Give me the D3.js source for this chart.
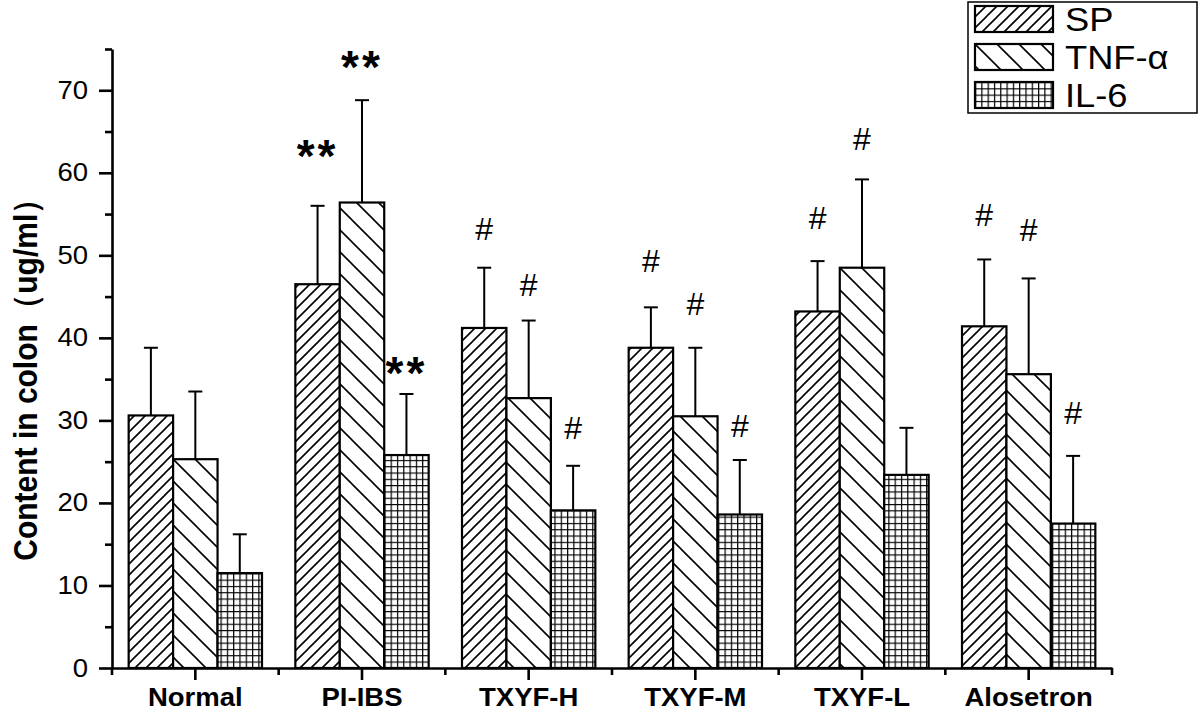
<!DOCTYPE html>
<html>
<head>
<meta charset="utf-8">
<script src="https://cdn.jsdelivr.net/npm/d3@7/dist/d3.min.js"></script>
<style>
    body { margin: 0; background: #fff; }
    text { font-family: "Liberation Sans", Arial, sans-serif; fill: #000; }
</style>
</head>
<body>
<svg id="chart" width="1200" height="712"></svg>
<script>
// data
var categories = ["Normal", "PI-IBS", "TXYF-H", "TXYF-M", "TXYF-L", "Alosetron"];
var seriesNames = ["SP", "TNF-\u03b1", "IL-6"];

var spMean  = [30.6, 46.5, 41.2, 38.8, 43.2, 41.4];
var spSD    = [8.2, 9.5, 7.3, 4.9, 6.1, 8.1];
var tnfMean = [25.3, 56.4, 32.7, 30.5, 48.5, 35.6];
var tnfSD   = [8.2, 12.4, 9.4, 8.3, 10.7, 11.6];
var il6Mean = [11.5, 25.8, 19.1, 18.6, 23.4, 17.5];
var il6SD   = [4.7, 7.4, 5.4, 6.6, 5.7, 8.2];

// significance marks and the value they sit at
var spMarks   = ["", "**", "#", "#", "#", "#"];
var spMarkAt  = [0, 63.6, 53.3, 49.4, 54.6, 55.0];
var tnfMarks  = ["", "**", "#", "#", "#", "#"];
var tnfMarkAt = [0, 74.3, 46.5, 44.2, 64.1, 53.1];
var il6Marks  = ["", "**", "#", "#", "", "#"];
var il6MarkAt = [0, 37.2, 29.2, 29.4, 0, 30.9];

var yMajor = [0, 10, 20, 30, 40, 50, 60, 70];
var yMinor = [5, 15, 25, 35, 45, 55, 65, 75];

const M = { left: 112, right: 1112, top: 49, bottom: 668 };
const TEXT_SX = 1.1;   // picture text is a bit wide

var svg = d3.select("#chart");

// fill patterns
var defs = svg.append("defs");
function hatch(id, w, d){
    var p = defs.append("pattern").attr("id", id)
        .attr("patternUnits", "userSpaceOnUse")
        .attr("width", w).attr("height", w);
    p.append("rect").attr("width", w).attr("height", w).attr("fill", "#fff");
    p.append("path").attr("d", d).attr("stroke", "#000").attr("stroke-width", 1.6).attr("fill", "none");
}
hatch("patSP", 11, "M0,11 L11,0 M-2,2 L2,-2 M9,13 L13,9");
hatch("patTNF", 22, "M0,0 L22,22 M-2,20 L2,24 M20,-2 L24,2");
var grid = defs.append("pattern").attr("id", "patIL6")
    .attr("patternUnits", "userSpaceOnUse").attr("width", 6.3).attr("height", 6.3);
grid.append("rect").attr("width", 6.3).attr("height", 6.3).attr("fill", "#fff");
grid.append("path").attr("d", "M0,0.6 H6.3 M0.6,0 V6.3")
    .attr("stroke", "#000").attr("stroke-width", 1.2);
var patterns = ["url(#patSP)", "url(#patTNF)", "url(#patIL6)"];

// scales
var x = d3.scaleBand().domain(categories).range([M.left, M.right]).paddingInner(0).paddingOuter(0);
var xSub = d3.scaleBand().domain(seriesNames).range([0, x.bandwidth()]).paddingOuter(0.375).paddingInner(0);
var y = d3.scaleLinear().domain([0, 75]).range([M.bottom, M.top]);

var series = [
    { name: seriesNames[0], mean: spMean, sd: spSD, marks: spMarks, markAt: spMarkAt },
    { name: seriesNames[1], mean: tnfMean, sd: tnfSD, marks: tnfMarks, markAt: tnfMarkAt },
    { name: seriesNames[2], mean: il6Mean, sd: il6SD, marks: il6Marks, markAt: il6MarkAt }
];

var rows = [];
series.forEach(function(s, si){
    categories.forEach(function(c, ci){
        rows.push({ cat: c, s: s.name, si: si, v: s.mean[ci], sd: s.sd[ci], mark: s.marks[ci], markAt: s.markAt[ci] });
    });
});

function barCenter(d){ return x(d.cat) + xSub(d.s) + xSub.bandwidth() / 2; }

// error bars (upper only)
var err = svg.append("g").attr("stroke", "#000").attr("stroke-width", 2);
err.selectAll("line.v").data(rows).enter().append("line")
    .attr("x1", barCenter).attr("x2", barCenter)
    .attr("y1", function(d){ return y(d.v); })
    .attr("y2", function(d){ return y(d.v + d.sd); });
err.selectAll("line.cap").data(rows).enter().append("line")
    .attr("x1", function(d){ return barCenter(d) - 7; })
    .attr("x2", function(d){ return barCenter(d) + 7; })
    .attr("y1", function(d){ return y(d.v + d.sd); })
    .attr("y2", function(d){ return y(d.v + d.sd); });

// bars
svg.append("g").selectAll("rect").data(rows).enter().append("rect")
    .attr("x", function(d){ return x(d.cat) + xSub(d.s); })
    .attr("y", function(d){ return y(d.v); })
    .attr("width", xSub.bandwidth())
    .attr("height", function(d){ return y(0) - y(d.v); })
    .attr("fill", function(d){ return patterns[d.si]; })
    .attr("stroke", "#000").attr("stroke-width", 2.2);

// significance marks
svg.append("g").selectAll("text").data(rows.filter(function(d){ return d.mark; })).enter().append("text")
    .attr("transform", function(d){
        var star = d.mark === "**";
        var fs = star ? 46 : 32;
        var off = star ? 0.62 * fs : 0.36 * fs;
        return "translate(" + barCenter(d) + "," + (y(d.markAt) + off) + ")";
    })
    .attr("text-anchor", "middle")
    .style("font-size", function(d){ return d.mark === "**" ? "46px" : "32px"; })
    .style("font-weight", function(d){ return d.mark === "**" ? "bold" : "normal"; })
    .style("letter-spacing", function(d){ return d.mark === "**" ? "3px" : "0px"; })
    .text(function(d){ return d.mark; });

function squeeze(sel){
    sel.each(function(){
        var t = d3.select(this);
        var tx = +t.attr("x") || 0;
        t.attr("x", tx / TEXT_SX).attr("transform", "scale(" + TEXT_SX + ",1)");
    });
}

// y axis
var yAxis = svg.append("g").attr("transform", "translate(" + M.left + ",0)")
    .call(d3.axisLeft(y).tickValues(yMajor).tickSize(13).tickSizeOuter(0).tickPadding(11));
yAxis.select(".domain").attr("stroke-width", 2.6);
yAxis.selectAll(".tick line").attr("stroke-width", 2.6);
yAxis.selectAll("text").style("font-size", "25px").style("font-family", "Liberation Sans, Arial, sans-serif");
squeeze(yAxis.selectAll("text"));
var yMin = svg.append("g").attr("transform", "translate(" + M.left + ",0)")
    .call(d3.axisLeft(y).tickValues(yMinor).tickSize(7).tickFormat(""));
yMin.select(".domain").remove();
yMin.selectAll(".tick line").attr("stroke-width", 2.6);

// x axis
var xAxis = svg.append("g").attr("transform", "translate(0," + M.bottom + ")")
    .call(d3.axisBottom(x).tickSize(12).tickSizeOuter(0).tickPadding(8));
xAxis.select(".domain").attr("stroke-width", 2.6);
xAxis.selectAll(".tick line").attr("stroke-width", 2.6);
xAxis.selectAll("text").style("font-size", "25px").style("font-weight", "bold")
    .style("font-family", "Liberation Sans, Arial, sans-serif");
squeeze(xAxis.selectAll("text"));
var bounds = categories.map(function(c){ return x(c); }).concat([M.right]);
svg.append("g").selectAll("line").data(bounds).enter().append("line")
    .attr("x1", function(d){ return d; }).attr("x2", function(d){ return d; })
    .attr("y1", M.bottom).attr("y2", M.bottom + 7)
    .attr("stroke", "#000").attr("stroke-width", 2.6);

// y title
svg.append("text")
    .attr("transform", "translate(37,372) scale(" + TEXT_SX + ",1) rotate(-90)")
    .attr("text-anchor", "middle")
    .style("font-size", "30px").style("font-weight", "bold")
    .text("Content in colon\uff08ug/ml\uff09");

// legend
var lg = svg.append("g");
lg.append("rect").attr("x", 968).attr("y", 2).attr("width", 229).attr("height", 111)
    .attr("fill", "#fff").attr("stroke", "#000").attr("stroke-width", 1.5);
var item = lg.selectAll("g.item").data(series).enter().append("g")
    .attr("transform", function(d, i){ return "translate(975," + (6 + i * 38) + ")"; });
item.append("rect").attr("width", 78).attr("height", 26)
    .attr("fill", function(d, i){ return patterns[i]; })
    .attr("stroke", "#000").attr("stroke-width", 2.2);
item.append("text")
    .attr("transform", "translate(90,25) scale(" + TEXT_SX + ",1)")
    .style("font-size", "33px")
    .text(function(d){ return d.name; });
</script>
</body>
</html>
